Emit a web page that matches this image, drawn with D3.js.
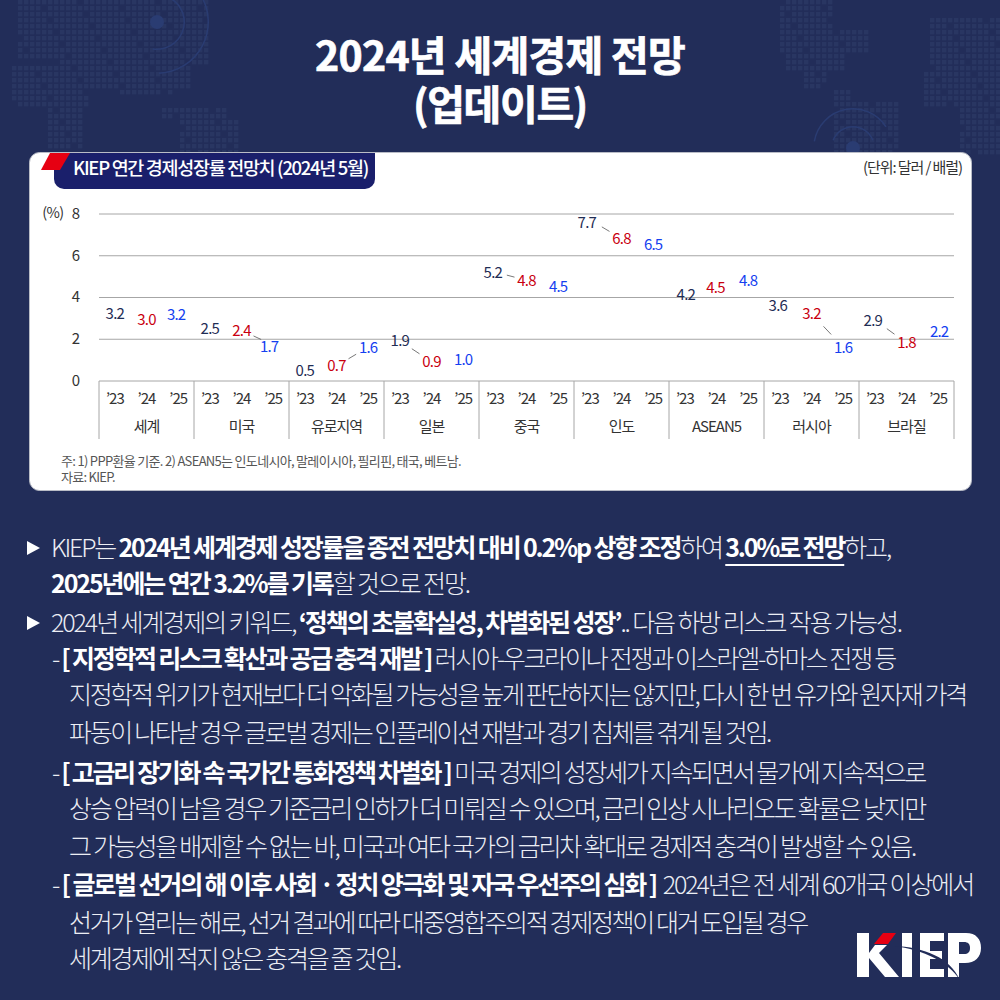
<!DOCTYPE html>
<html>
<head>
<meta charset="utf-8">
<script src="https://d3js.org/d3.v7.min.js"></script>
<style>
  html, body { margin: 0; padding: 0; background: #222d59; }
  svg { display: block; }
  text { font-family: "Noto Sans CJK KR", "Noto Sans", sans-serif; }
  .y-axis .domain { display: none; }
</style>
</head>
<body>
<div class="chart"></div>
<script>
const groups = ['세계', '미국', '유로지역', '일본', '중국', '인도', 'ASEAN5', '러시아', '브라질']
const years = ["'23", "'24", "'25"]
const values23 = [3.2, 2.5, 0.5, 1.9, 5.2, 7.7, 4.2, 3.6, 2.9]
const values24 = [3.0, 2.4, 0.7, 0.9, 4.8, 6.8, 4.5, 3.2, 1.8]
const values25 = [3.2, 1.7, 1.6, 1.0, 4.5, 6.5, 4.8, 1.6, 2.2]
const yTicks = [0, 2, 4, 6, 8]
// group index, first year index of the pair joined by a leader line
const leaders = [[1, 1], [2, 1], [3, 0], [4, 0], [5, 0], [7, 1], [8, 0]]

const titleLines = ['2024년 세계경제 전망', '(업데이트)']
const panelTitle = 'KIEP 연간 경제성장률 전망치 (2024년 5월)'
const unitText = '(단위: 달러 / 배럴)'
const notes = ['주: 1) PPP환율 기준. 2) ASEAN5는 인도네시아, 말레이시아, 필리핀, 태국, 베트남.', '자료: KIEP.']

// [text, bold, underlined]
const bodyLines = [
  [['KIEP는 '], ['2024년 세계경제 성장률을 종전 전망치 대비 0.2%p 상향 조정', 1], ['하여 '], ['3.0%로 전망', 1, 1], ['하고,']],
  [['2025년에는 연간 3.2%를 기록', 1], ['할 것으로 전망.']],
  [['2024년 세계경제의 키워드, '], ['‘정책의 초불확실성, 차별화된 성장’', 1], ['.. 다음 하방 리스크 작용 가능성.']],
  [['- '], ['[ 지정학적 리스크 확산과 공급 충격 재발 ]', 1], [' 러시아-우크라이나 전쟁과 이스라엘-하마스 전쟁 등']],
  [['지정학적 위기가 현재보다 더 악화될 가능성을 높게 판단하지는 않지만, 다시 한 번 유가와 원자재 가격']],
  [['파동이 나타날 경우 글로벌 경제는 인플레이션 재발과 경기 침체를 겪게 될 것임.']],
  [['- '], ['[ 고금리 장기화 속 국가간 통화정책 차별화 ]', 1], [' 미국 경제의 성장세가 지속되면서 물가에 지속적으로']],
  [['상승 압력이 남을 경우 기준금리 인하가 더 미뤄질 수 있으며, 금리 인상 시나리오도 확률은 낮지만']],
  [['그 가능성을 배제할 수 없는 바, 미국과 여타 국가의 금리차 확대로 경제적 충격이 발생할 수 있음.']],
  [['- '], ['[ 글로벌 선거의 해 이후 사회 · 정치 양극화 및 자국 우선주의 심화 ]', 1], ['  2024년은 전 세계 60개국 이상에서']],
  [['선거가 열리는 해로, 선거 결과에 따라 대중영합주의적 경제정책이 대거 도입될 경우']],
  [['세계경제에 적지 않은 충격을 줄 것임.']]
]
const lineLayout = [
  [51, 890, 557], [51, 469, 593], [51, 901, 632], [52, 895, 668], [69, 966, 704], [69, 770, 742],
  [52, 925, 782], [69, 925, 818], [69, 915, 856], [52, 973, 894], [69, 807, 932], [69, 400, 968]
]

const svg = d3.select('.chart').append('svg').attr('width', 1000).attr('height', 1000)
svg.append('rect').attr('width', 1000).attr('height', 1000).attr('fill', '#222d59')

// squeeze a text line so it runs from x0 to x1
function fit(t, x0, x1) {
  const len = t.node().getComputedTextLength()
  const n = t.text().length
  t.attr('x', x0).attr('letter-spacing', (x1 - x0 - len) / n)
  return t
}

//-----> dotted world map behind the title <-------
const mapBlobs = [
  [14, 0, 90, 55], [60, 0, 210, 62], [8, 62, 85, 105], [45, 100, 82, 150], [85, 60, 190, 85],
  [120, 85, 170, 95], [160, 105, 225, 120], [175, 120, 240, 152],
  [775, 0, 830, 25], [780, 25, 870, 50], [785, 50, 845, 72], [800, 72, 825, 85], [830, 85, 850, 98], [830, 100, 895, 152],
  [930, 15, 1000, 50], [925, 50, 1000, 72], [922, 72, 1000, 105], [955, 105, 1000, 152]
]
const dots = []
d3.range(0, 1000, 6).forEach((x, i) => d3.range(0, 152, 6).forEach((y, j) => {
  if ((i * 7 + j * 3) % 13 == 0) return
  if (mapBlobs.some(b => x >= b[0] && x < b[2] && y >= b[1] && y < b[3])) dots.push([x, y])
}))
svg.append('g').selectAll('rect').data(dots).enter().append('rect')
  .attr('x', d => d[0]).attr('y', d => d[1])
  .attr('width', 4.4).attr('height', 4.4)
  .attr('fill', '#293662')

const ringArc = d3.arc()
const rings = [
  {c: [157, 22], r: 7, a0: 0, a1: 6.3, fill: '#2a3c72'},
  {c: [157, 22], r: 28, a0: 0.6, a1: 3.3, fill: '#2a3c72'},
  {c: [157, 22], r: 52, a0: 1.0, a1: 3.1, fill: '#2a3c72'},
  {c: [853, 148], r: 7, a0: 0, a1: 6.3, fill: '#2a3c72'},
  {c: [853, 148], r: 22, a0: -1.2, a1: 1.2, fill: '#2a3c72'},
  {c: [853, 148], r: 40, a0: -1.4, a1: 1.0, fill: '#2a3c72'}
]
svg.append('g').selectAll('path').data(rings).enter().append('path')
  .attr('transform', d => `translate(${d.c})`)
  .attr('fill', d => d.fill)
  .attr('d', d => ringArc({innerRadius: d.r == 7 ? 0 : d.r - 1.5, outerRadius: d.r, startAngle: d.a0, endAngle: d.a1}))

titleLines.forEach((s, i) => {
  const t = svg.append('text').attr('y', i == 0 ? 71 : 120)
    .attr('font-size', 41).attr('font-weight', 700).attr('fill', 'white')
    .attr('stroke', 'white').attr('stroke-width', 0.7)
    .text(s)
  if (i == 0) fit(t, 315, 685); else fit(t, 413, 587)
})

//-----> panel <-------
svg.append('rect').attr('x', 29.5).attr('y', 152.5).attr('width', 942).attr('height', 338).attr('rx', 10)
  .attr('fill', 'white').attr('stroke', '#b9bcc6').attr('stroke-width', 1)

svg.append('path').attr('fill', '#1a1f6b')
  .attr('d', 'M54,153H375V179a10,10 0 0 1 -10,10H64a10,10 0 0 1 -10,-10Z')
svg.append('path').attr('fill', '#e60012').attr('d', 'M41,170L50,153H70L60,170Z')
fit(svg.append('text').attr('y', 174.5).attr('font-size', 18.5).attr('font-weight', 500).attr('fill', 'white').text(panelTitle), 73, 368)

fit(svg.append('text').attr('y', 173).attr('font-size', 15).attr('fill', '#333').text(unitText), 863, 962)

//-----> chart <-------
const plotLeft = 99, plotRight = 954, zeroY = 380.5, topY = 213.5, tableBottom = 439

const yScale = d3.scaleLinear().domain([0, 8]).range([zeroY, topY])
const groupScale = d3.scaleBand().domain(groups).range([plotLeft, plotRight])
const yearScale = d3.scaleBand().domain(years).range([0, groupScale.bandwidth()])
const xPos = (g, y) => groupScale(groups[g]) + yearScale(years[y]) + yearScale.bandwidth() / 2

const yAxis = d3.axisLeft(yScale).tickValues(yTicks).tickSize(-(plotRight - plotLeft)).tickFormat(d3.format('d'))
const yG = svg.append('g').attr('class', 'y-axis').attr('transform', `translate(${plotLeft},0)`).call(yAxis)
yG.selectAll('line').attr('stroke', '#a6a6a6').attr('stroke-width', 1)
yG.selectAll('text').attr('x', -23).attr('font-size', 15).attr('fill', '#333').attr('text-anchor', 'middle')
  .attr('font-family', '"Noto Sans CJK KR"')

svg.append('text').attr('x', 53).attr('y', 218).attr('font-size', 14.5).attr('letter-spacing', -0.6).attr('fill', '#333').attr('text-anchor', 'middle').text('(%)')

// table under the axis
svg.append('g').selectAll('line').data(d3.range(groups.length + 1)).enter().append('line')
  .attr('x1', d => plotLeft + d * groupScale.bandwidth()).attr('x2', d => plotLeft + d * groupScale.bandwidth())
  .attr('y1', 381).attr('y2', tableBottom)
  .attr('stroke', '#a6a6a6')

groups.forEach((g, i) => {
  years.forEach((y, j) => {
    svg.append('text').attr('x', xPos(i, j)).attr('y', 404)
      .attr('font-size', 15).attr('letter-spacing', -1).attr('fill', '#333').attr('text-anchor', 'middle')
      .text(y.replace("'", '’'))
  })
  svg.append('text').attr('x', groupScale(g) + groupScale.bandwidth() / 2).attr('y', 431.5)
    .attr('font-size', 15).attr('letter-spacing', -1).attr('fill', '#333').attr('text-anchor', 'middle')
    .text(g)
})

const series = [
  {vals: values23, color: '#1f2d55'},
  {vals: values24, color: '#c9000f'},
  {vals: values25, color: '#1440f0'}
]
// hand placed labels in the original, shifted a little off their spot
const nudge = {'0-1': [0, 2], '1-2': [-4, 1], '5-0': [-3, 3], '8-2': [1, -3], '6-0': [1, 2], '0-2': [-2, 1], '4-0': [-2, 1], '7-0': [-2, 0], '8-0': [-2, 1], '6-1': [-1, 1]}

series.forEach((s, j) => {
  svg.append('g').selectAll('text').data(s.vals).enter().append('text')
    .attr('x', (d, i) => xPos(i, j) + (nudge[i + '-' + j] || [0, 0])[0])
    .attr('y', d => yScale(d))
    .attr('dy', (d, i) => 5.5 + (nudge[i + '-' + j] || [0, 0])[1])
    .attr('font-size', 15).attr('letter-spacing', -0.8)
    .attr('fill', s.color).attr('text-anchor', 'middle')
    .text(d => d.toFixed(1))
})

svg.append('g').selectAll('line').data(leaders).enter().append('line')
  .each(function(d) {
    const [g, j] = d
    const x0 = xPos(g, j), x1 = xPos(g, j + 1)
    const y0 = yScale(series[j].vals[g]), y1 = yScale(series[j + 1].vals[g])
    const f = 12 / (x1 - x0)
    d3.select(this)
      .attr('x1', x0 + (x1 - x0) * f).attr('y1', y0 + (y1 - y0) * f)
      .attr('x2', x1 - (x1 - x0) * f).attr('y2', y1 - (y1 - y0) * f)
  })
  .attr('stroke', '#555').attr('stroke-width', 0.8)

notes.forEach((s, i) => {
  fit(svg.append('text').attr('y', 465.5 + i * 16.5).attr('font-size', 13).attr('fill', '#555').text(s), 61, i == 0 ? 461 : 115)
})

//-----> body text <-------
svg.append('g').selectAll('path').data([548, 623]).enter().append('path')
  .attr('transform', d => `translate(27,${d})`)
  .attr('d', 'M0,-7L13,0L0,7Z').attr('fill', 'white')

bodyLines.forEach((segs, i) => {
  const [x0, x1, y] = lineLayout[i]
  const t = svg.append('text').attr('y', y).attr('font-size', 25).attr('fill', '#f2f3f7').style('white-space', 'pre')
  segs.forEach(s => {
    t.append('tspan').attr('font-weight', s[1] ? 700 : 300).attr('fill', s[1] ? 'white' : '#eceef4').text(s[0])
  })
  fit(t, x0, x1)
  let pos = 0
  segs.forEach(s => {
    if (s[2]) {
      const a = t.node().getStartPositionOfChar(pos), b = t.node().getEndPositionOfChar(pos + s[0].length - 1)
      svg.append('rect').attr('x', a.x).attr('y', y + 7).attr('width', b.x - a.x).attr('height', 2).attr('fill', 'white')
    }
    pos += s[0].length
  })
})

//-----> logo <-------
const logo = svg.append('g').attr('fill', 'white')
logo.append('path').attr('d', 'M857,933H869V977H857Z')
logo.append('path').attr('d', 'M869,953L875,945H887L879,953L899,977H885L869,958Z')
logo.append('path').attr('d', 'M902,933H912V977H902Z')
logo.append('path').attr('d', 'M920,933H944V941H930V951H942V959H930V969H944V977H920Z')
logo.append('path').attr('fill-rule', 'evenodd').attr('d', 'M948,933H966C976,933 981,939 981,948C981,957 975,963 965,963H959V977H948ZM959,942V954H964C968,954 970,952 970,948C970,944 968,942 964,942Z')
logo.append('path').attr('fill', '#e60012').attr('d', 'M874,944L883,933H896L888,944Z')
logo.append('path').attr('fill', '#222d59').attr('d', 'M893,946C925,947 950,958 960,980C948,962 925,950 893,946Z')
</script>
</body>
</html>
